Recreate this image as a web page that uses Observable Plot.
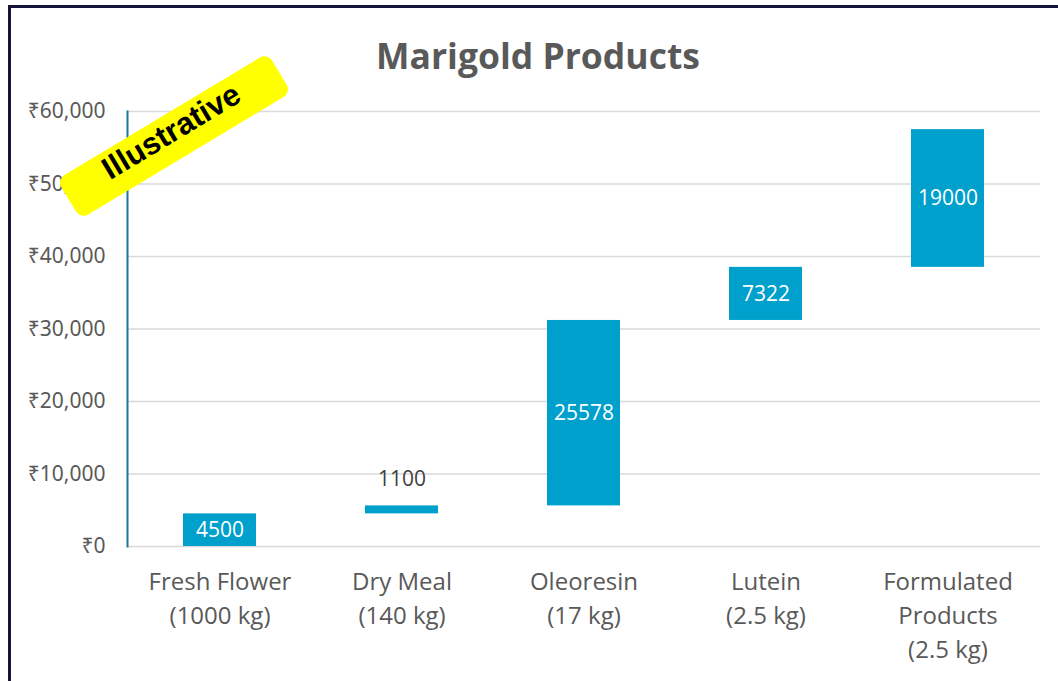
<!DOCTYPE html>
<html>
<head>
<meta charset="utf-8">
<script src="https://cdn.jsdelivr.net/npm/d3@7"></script>
<script src="https://cdn.jsdelivr.net/npm/@observablehq/plot@0.6"></script>
<style>
  html, body { margin: 0; padding: 0; background: #fff; }
  #wrap { position: relative; width: 1058px; height: 681px; overflow: hidden; background: #fff; font-family: "Noto Sans", "Open Sans", sans-serif; }
  #frame { position: absolute; left: 8px; top: 5px; width: 1060px; height: 700px; border-top: 3px solid #14143a; border-left: 3px solid #14143a; box-sizing: border-box; }
  #title { position: absolute; left: 0; width: 1076px; top: 31px; text-align: center; font: bold 35.5px "Open Sans", "Noto Sans", sans-serif; color: #595959; }
  #chart { position: absolute; left: 0; top: 90px; }
  #badge { position: absolute; left: 51px; top: 113px; width: 246px; height: 46px; background: #ffff00; border-radius: 9px; transform: rotate(-31deg); text-align: center; line-height: 46px; font: bold 31px "Liberation Sans", Arial, sans-serif; color: #000; }
</style>
</head>
<body>
<div id="wrap">
  <div id="frame"></div>
  <div id="title">Marigold Products</div>
  <div id="chart"></div>
  <div id="badge">Illustrative</div>
</div>
<script>
const categories = ["Fresh Flower\n(1000 kg)", "Dry Meal\n(140 kg)", "Oleoresin\n(17 kg)", "Lutein\n(2.5 kg)", "Formulated\nProducts\n(2.5 kg)"];
const values = [4500, 1100, 25578, 7322, 19000];
const yTicks = [0, 10000, 20000, 30000, 40000, 50000, 60000];

let acc = 0;
const rows = categories.map((c, i) => {
  const start = acc;
  acc += values[i];
  return {cat: c, start, end: acc, value: values[i], mid: (start + acc) / 2, inside: values[i] > 3000};
});

const fmt = d => "₹" + d3.format(",")(d);

const chart = Plot.plot({
  width: 1058,
  height: 591,
  marginLeft: 127,
  marginRight: 18,
  marginTop: 21,
  marginBottom: 135,
  style: {fontFamily: '"Open Sans", "Noto Sans", sans-serif', background: "transparent"},
  x: {domain: categories, paddingInner: 0.6, paddingOuter: 0.3},
  y: {domain: [0, 60000]},
  marks: [
    Plot.gridY(yTicks, {stroke: "#d9d9d9", strokeOpacity: 1, strokeWidth: 1.5}),
    Plot.frame({anchor: "left", stroke: "#1b75a0", strokeWidth: 2}),
    Plot.axisY(yTicks, {tickSize: 0, tickPadding: 22, tickFormat: fmt, fontSize: 21, fill: "#595959", fontFamily: '"Noto Sans", sans-serif', label: null}),
    Plot.axisX({tickSize: 0, tickPadding: 19, fontSize: 24, fill: "#595959", lineHeight: 1.42, label: null}),
    Plot.barY(rows, {x: "cat", y1: "start", y2: "end", fill: "#00a0cc"}),
    Plot.text(rows.filter(d => d.inside), {x: "cat", y: "mid", text: d => String(d.value), fill: "white", fontSize: 21}),
    Plot.text(rows.filter(d => !d.inside), {x: "cat", y: "end", text: d => String(d.value), fill: "#404040", fontSize: 21, dy: -27})
  ]
});
document.getElementById("chart").appendChild(chart);
</script>
</body>
</html>
